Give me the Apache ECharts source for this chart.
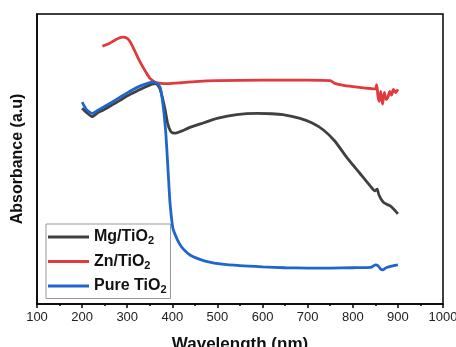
<!DOCTYPE html>
<html>
<head>
<meta charset="utf-8">
<script src="https://cdn.jsdelivr.net/npm/echarts@6/dist/echarts.min.js"></script>
<style>
  html, body { margin: 0; padding: 0; background: #fff; }
  #chart { width: 456px; height: 347px; }
</style>
</head>
<body>
<div id="chart"></div>
<script>
// x ticks (nm)
const xTicks = [100, 200, 300, 400, 500, 600, 700, 800, 900, 1000];

// [wavelength nm, absorbance a.u. (0-100 arbitrary)]
const mgTiO2 = [
  [200, 67.5], [210, 66.0], [222, 64.6], [235, 66.0], [246, 66.8], [265, 68.5],
  [284, 70.2], [300, 71.8], [322, 73.5], [340, 74.8], [355, 75.8], [362, 76.0],
  [368, 75.4], [373, 74.0], [379, 70.5], [384, 67.0], [390, 62.0], [396, 59.6],
  [401, 59.0], [408, 58.9], [420, 59.6], [439, 60.9], [470, 62.5], [499, 64.0],
  [543, 65.3], [588, 65.7], [620, 65.6], [645, 65.3], [683, 64.0], [710, 62.4],
  [735, 60.0], [760, 56.2], [787, 50.5], [816, 45.0], [838, 40.8], [849, 39.0],
  [854, 39.6], [858, 37.6], [867, 35.2], [875, 34.4], [883, 33.8], [892, 32.5],
  [900, 31.1]
];

const znTiO2 = [
  [245, 88.9], [260, 89.8], [275, 91.2], [290, 92.0], [300, 91.6], [307, 90.3],
  [316, 87.5], [325, 84.5], [333, 82.2], [342, 79.8], [350, 77.9], [362, 76.5],
  [375, 76.1], [390, 76.0], [420, 76.3], [460, 76.8], [500, 77.0], [600, 77.2],
  [700, 77.2], [750, 77.0], [760, 76.1], [780, 75.4], [810, 74.8], [850, 74.2],
  [853, 75.6], [856, 71.5], [859, 69.9], [862, 73.3], [866, 68.9], [870, 73.0],
  [874, 70.5], [878, 71.3], [882, 73.3], [886, 72.0], [890, 74.0], [895, 72.9],
  [900, 74.0]
];

const pureTiO2 = [
  [200, 69.6], [210, 67.0], [222, 65.7], [235, 66.8], [246, 67.8], [265, 69.5],
  [284, 71.3], [300, 72.8], [322, 74.7], [340, 75.8], [355, 76.5], [366, 76.1],
  [373, 74.7], [379, 69.2], [385, 60.0], [388, 52.9], [392, 42.0], [395, 34.6],
  [401, 26.3], [406, 24.0], [415, 21.0], [424, 19.0], [440, 16.8], [461, 15.4],
  [480, 14.5], [506, 13.8], [550, 13.2], [600, 12.8], [650, 12.5], [700, 12.4],
  [750, 12.4], [800, 12.5], [840, 12.6], [850, 13.5], [856, 13.2], [862, 12.0],
  [867, 11.8], [875, 12.6], [890, 13.2], [900, 13.5]
];

const names = ['Mg/TiO2', 'Zn/TiO2', 'Pure TiO2'];
const colors = ['#404040', '#e0393e', '#1f66cc'];

const mychart = echarts.init(document.getElementById('chart'));

const option = {
  animation: false,
  textStyle: { fontFamily: 'Liberation Sans, Arial, sans-serif' },
  grid: {
    left: 37, right: 13, top: 14, bottom: 43,
    containLabel: false,
    outerBoundsMode: 'none',
    show: true, borderColor: '#000', borderWidth: 1.5
  },
  legend: {
    orient: 'vertical',
    left: 46, top: 224,
    icon: 'rect',
    itemWidth: 41, itemHeight: 3, itemGap: 7,
    borderColor: '#999', borderWidth: 1, borderRadius: 0,
    padding: [5, 4, 3, 2],
    data: names,
    formatter: (name) => '{a|' + name.slice(0, -1) + '}{sub|2}',
    textStyle: {
      rich: {
        a: { fontSize: 16, fontWeight: 'bold', color: '#111' },
        sub: { fontSize: 11, fontWeight: 'bold', color: '#111', padding: [8, 0, 0, 0] }
      }
    }
  },
  xAxis: {
    type: 'value',
    min: 100, max: 1000, interval: 100,
    name: 'Wavelength (nm)',
    nameLocation: 'middle',
    nameGap: 32,
    nameTextStyle: { fontSize: 17, fontWeight: 'bold', color: '#111' },
    axisLine: { lineStyle: { color: '#000', width: 1.5 } },
    axisTick: { inside: false, length: 4, lineStyle: { color: '#000', width: 1.5 } },
    minorTick: { show: true, splitNumber: 2, length: 2, lineStyle: { color: '#000', width: 1.5 } },
    axisLabel: {
      fontSize: 13, color: '#222', margin: 7, showMaxLabel: true,
      formatter: (v) => String(xTicks.includes(v) ? v : '')
    },
    splitLine: { show: false }
  },
  yAxis: {
    type: 'value',
    min: 0, max: 100,
    name: 'Absorbance (a.u)',
    nameLocation: 'middle',
    nameGap: 11,
    nameTextStyle: { fontSize: 16, fontWeight: 'bold', color: '#111' },
    axisLine: { show: true, lineStyle: { color: '#000', width: 1.5 } },
    axisTick: { show: false },
    axisLabel: { show: false },
    splitLine: { show: false }
  },
  series: [
    { name: names[0], data: mgTiO2 },
    { name: names[1], data: znTiO2 },
    { name: names[2], data: pureTiO2 }
  ].map((s, i) => ({
    name: s.name,
    type: 'line',
    data: s.data,
    smooth: 0.2,
    symbol: 'none',
    z: i === 2 ? 4 : 3,
    itemStyle: { color: colors[i] },
    lineStyle: { color: colors[i], width: 2.8 }
  }))
};

mychart.setOption(option);

window.addEventListener('resize', () => {
  mychart.resize();
});
</script>
</body>
</html>
